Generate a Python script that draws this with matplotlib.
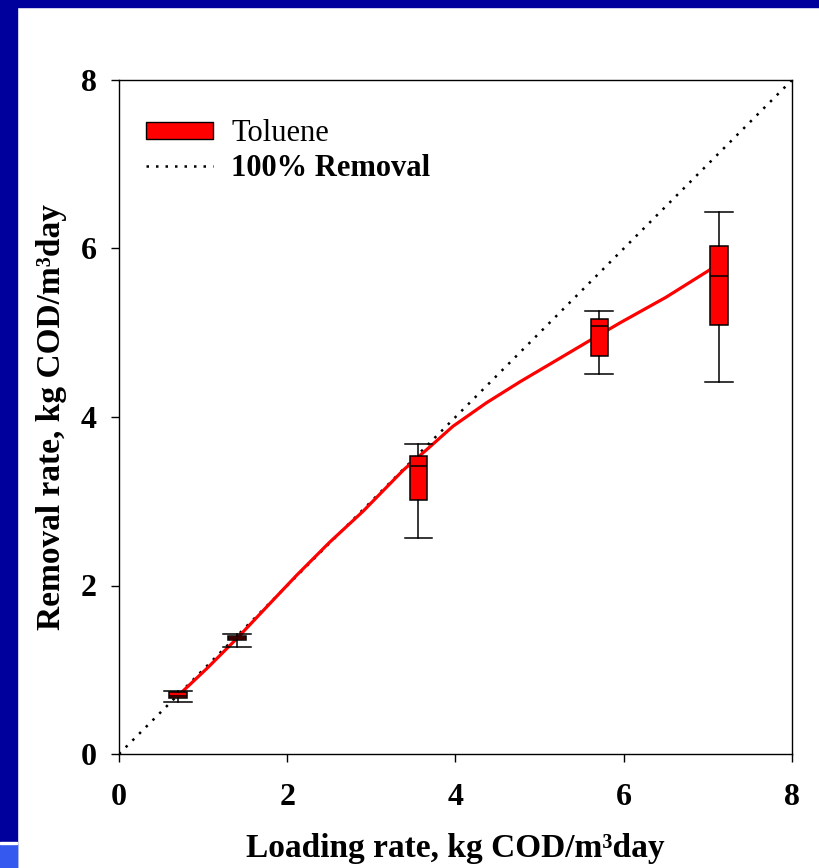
import matplotlib
matplotlib.use('Agg')
from matplotlib import pyplot as plt
from matplotlib.patches import Patch, Rectangle
from matplotlib.lines import Line2D

# box statistics
positions = [0.70, 1.40, 3.56, 5.71, 7.13]
whislo = [0.62, 1.27, 2.56, 4.51, 4.42]
q1 = [0.66, 1.35, 3.01, 4.72, 5.09]
med = [0.69, 1.38, 3.42, 5.08, 5.67]
q3 = [0.73, 1.40, 3.54, 5.16, 6.03]
whishi = [0.75, 1.43, 3.68, 5.26, 6.43]

# red fitted curve
curve_x = [0.70, 1.05, 1.40, 1.75, 2.11, 2.50, 2.90, 3.38, 3.70, 3.97, 4.37,
           4.77, 5.16, 5.60, 5.96, 6.50, 7.06]
curve_y = [0.69, 1.02, 1.37, 1.74, 2.12, 2.51, 2.88, 3.37, 3.65, 3.89, 4.17,
           4.42, 4.65, 4.91, 5.12, 5.42, 5.77]

# 100% removal line
ideal = [0, 8]

W, H = 820, 868

plt.rcParams['font.family'] = ['Liberation Serif', 'DejaVu Serif']
plt.rcParams['font.weight'] = 'bold'


def main() -> None:
    fig = plt.figure(figsize=(W / 100, H / 100), dpi=100)
    ax = fig.add_axes([119 / W, 1 - 754 / H, 673 / W, 674 / H])

    # slide frame
    blue = '#00009c'
    fig.patches.append(Rectangle((0, 0), 17 / W, 1, transform=fig.transFigure,
                                 color=blue, zorder=-1))
    fig.patches.append(Rectangle((0, 1 - 7 / H), 1, 7 / H, transform=fig.transFigure,
                                 color=blue, zorder=-1))
    fig.patches.append(Rectangle((0, 0), 17 / W, 24 / H, transform=fig.transFigure,
                                 color='#3558ee', zorder=0))
    fig.patches.append(Rectangle((0, 24 / H), 17 / W, 2 / H, transform=fig.transFigure,
                                 color='white', zorder=0))

    ax.plot(ideal, ideal, color='black', linestyle=(0, (1, 2.8)), linewidth=1.8,
            zorder=1)
    ax.plot(curve_x, curve_y, color='red', linewidth=2.3, zorder=2,
            solid_joinstyle='round')

    stats = []
    for i in range(len(positions)):
        stats.append(dict(whislo=whislo[i], q1=q1[i], med=med[i], q3=q3[i],
                          whishi=whishi[i], fliers=[]))
    ax.bxp(stats, positions=positions, widths=0.21, patch_artist=True,
           showfliers=False, manage_ticks=False,
           boxprops=dict(facecolor='red', edgecolor='black', linewidth=1.1),
           medianprops=dict(color='black', linewidth=1.1),
           whiskerprops=dict(color='black', linewidth=1.1),
           capprops=dict(color='black', linewidth=1.1),
           capwidths=0.33, zorder=3)

    ax.set_xlim(0, 8)
    ax.set_ylim(0, 8)
    ax.set_xticks([0, 2, 4, 6, 8])
    ax.set_yticks([0, 2, 4, 6, 8])
    ax.tick_params(direction='out', length=6, width=1, labelsize=23,
                   top=False, right=False)
    ax.tick_params(axis='x', pad=15)
    ax.tick_params(axis='y', pad=10)
    for s in ax.spines.values():
        s.set_linewidth(1)

    ax.set_xlabel('Loading rate, kg COD/m³day', fontsize=24, fontweight='bold',
                  va='center')
    ax.set_ylabel('Removal rate, kg COD/m³day', fontsize=24, fontweight='bold',
                  va='center')
    ax.xaxis.set_label_coords(0.5, (754 - 848) / 674)
    ax.yaxis.set_label_coords((52 - 119) / 673, 0.5)

    handles = [Patch(facecolor='red', edgecolor='black', linewidth=1),
               Line2D([], [], color='black', linestyle=(0, (1, 2.8)), linewidth=1.8)]
    leg = ax.legend(handles, ['Toluene', '100% Removal'], loc='upper left',
                    bbox_to_anchor=(0.04, 0.942), frameon=False, fontsize=22,
                    handlelength=2.2, handleheight=0.5, handletextpad=0.6,
                    labelspacing=0.2, borderpad=0, borderaxespad=0)
    leg.get_texts()[0].set_fontweight('normal')

    fig.savefig('out.png', dpi=100)


if __name__ == '__main__':
    main()
